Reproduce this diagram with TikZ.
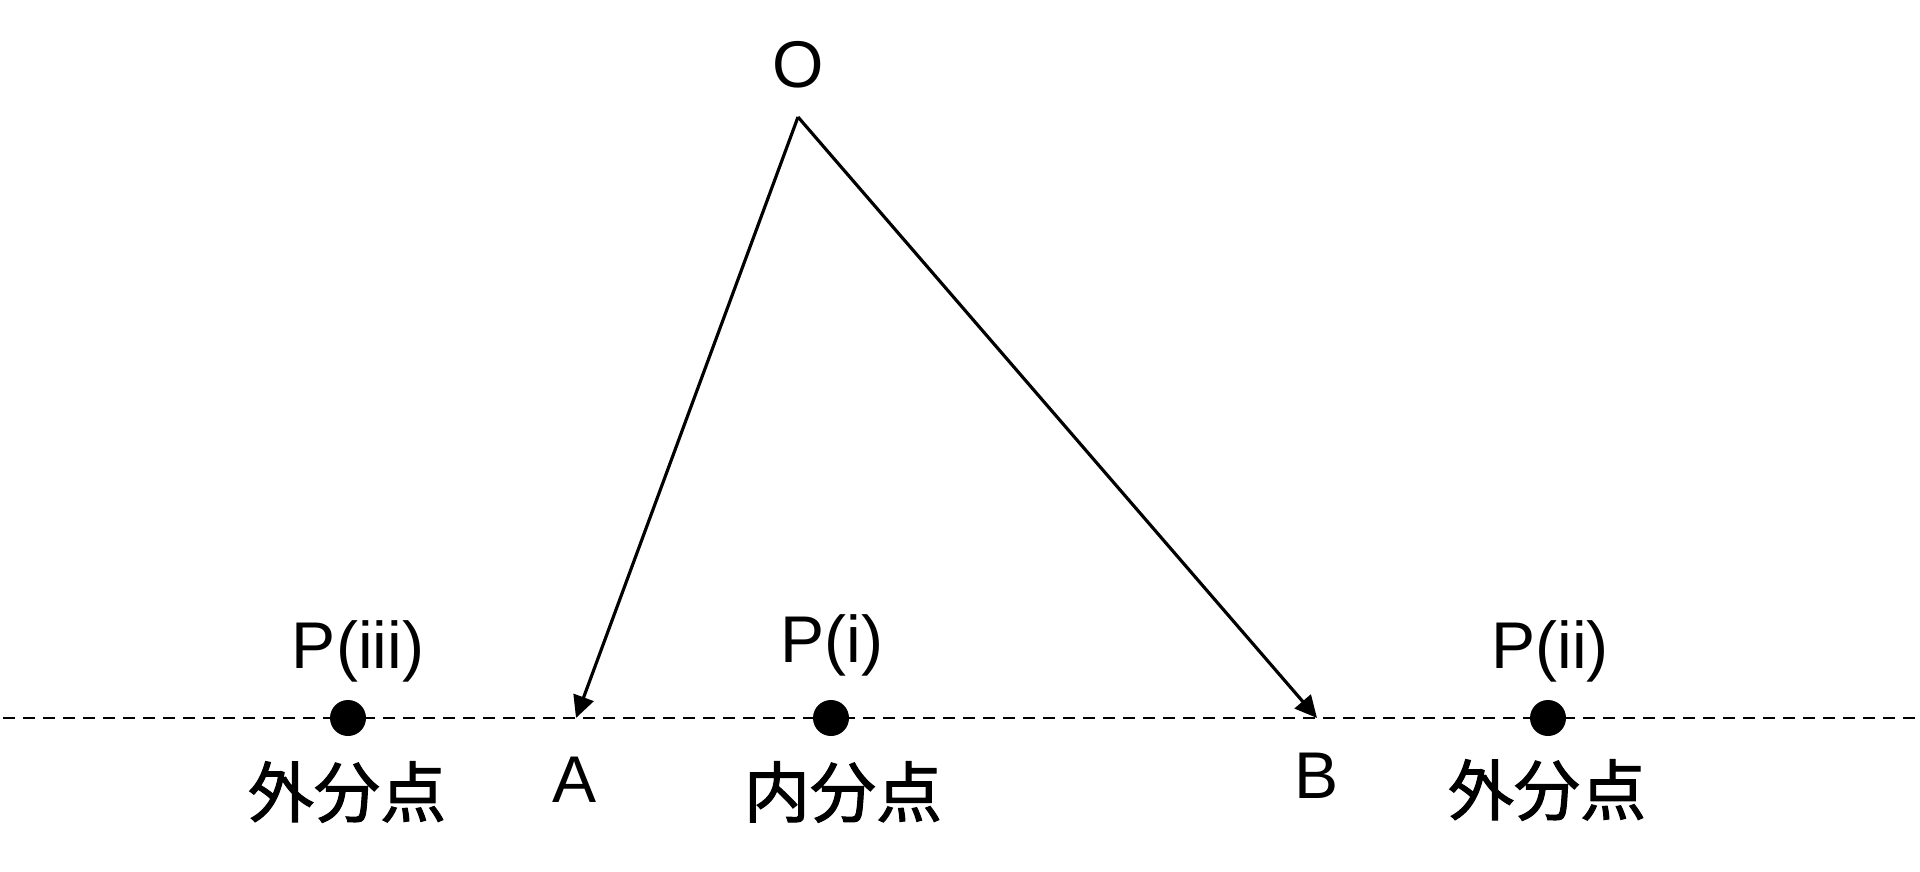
\documentclass[tikz,border=0pt]{standalone}
\usepackage{fontspec}
\setmainfont{Liberation Sans}
\newfontfamily\cjk[FakeBold=1.6]{Noto Sans CJK JP}
\usetikzlibrary{arrows.meta}

\tikzset{
	felirat/.style={font=\fontsize{18.8}{22}\selectfont, inner sep=0pt, anchor=base},
	jfelirat/.style={font=\cjk\fontsize{18.8}{22}\selectfont, inner sep=0pt},
	pont/.style={circle, fill=black, inner sep=0pt, minimum size=0.36cm},
	vektor/.style={line width=0.9pt, -{Triangle[length=0.22cm,width=0.21cm]}},
	egyenes/.style={line width=0.8pt, dash pattern=on 0.12cm off 0.08cm}
}

\begin{document}
\begin{tikzpicture}
		\useasboundingbox (0,0) rectangle (19.2,8.71);
		
		% Egyenes
		\coordinate (bal) at (0.03,1.53);
		\coordinate (jobb) at (19.17,1.53);
		\draw [egyenes] (bal)--(jobb); % szaggatott
		
		% Vektorok
		\node[felirat] (O) at (7.98,7.83) {O};
		\coordinate (Ocs) at (7.98,7.54);
		\coordinate (A) at (5.76,1.53);
		\coordinate (B) at (13.17,1.53);
		\draw [vektor] (Ocs)--(A); % OA
		\draw [vektor] (Ocs)--(B); % OB
		\node[felirat] (Acimke) at (5.75,0.69) {A};
		\node[felirat] (Bcimke) at (13.17,0.73) {B};
		
		% Pontok és címkék
		\node[pont] (P3) at (3.48,1.53) {};
		\node[felirat] (P3cimke) at (3.58,2.03) {P(iii)};
		\node[jfelirat] (P3kulso) at (3.47,0.79) {外分点};
		
		\node[pont] (P1) at (8.31,1.53) {};
		\node[felirat] (P1cimke) at (8.32,2.09) {P(i)};
		\node[jfelirat] (P1belso) at (8.43,0.79) {内分点};
		
		\node[pont] (P2) at (15.48,1.53) {};
		\node[felirat] (P2cimke) at (15.50,2.03) {P(ii)};
		\node[jfelirat] (P2kulso) at (15.47,0.81) {外分点};
		
	\end{tikzpicture}
\end{document}
